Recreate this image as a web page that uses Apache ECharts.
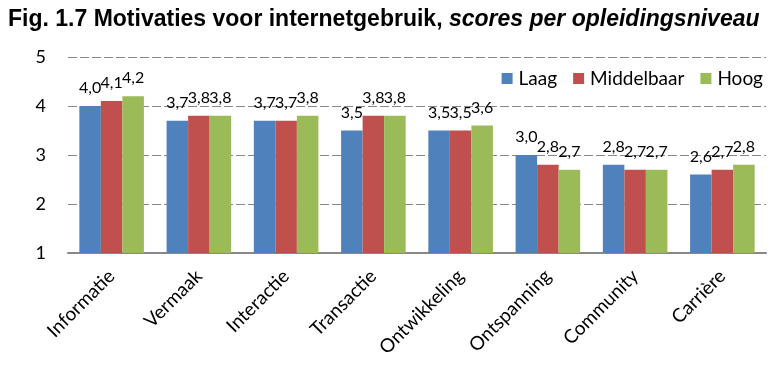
<!DOCTYPE html>
<html><head><meta charset="utf-8">
<script src="https://cdn.jsdelivr.net/npm/echarts@6/dist/echarts.min.js"></script>
<style>html,body{margin:0;padding:0;background:#fff}#c{width:778px;height:366px}</style>
</head><body><div id="c"></div>
<script>
const categories = ['Informatie','Vermaak','Interactie','Transactie','Ontwikkeling','Ontspanning','Community','Carrière'];
const seriesNames = ['Laag','Middelbaar','Hoog'];
const laag = [4.0,3.7,3.7,3.5,3.5,3.0,2.8,2.6];
const middelbaar = [4.1,3.8,3.7,3.8,3.5,2.8,2.7,2.7];
const hoog = [4.2,3.8,3.8,3.8,3.6,2.7,2.7,2.8];
const yTicks = [1,2,3,4,5];
const colors = ['#4f81bd','#c0504d','#9bbb59'];
const font = 'Lato, "Open Sans", sans-serif';
const chart = echarts.init(document.getElementById('c'));
const mk = (name, data, i) => ({
  name, type:'bar', data, barGap:'0%', barCategoryGap:'26%',
  itemStyle:{color:colors[i]},
  label:{show:true, position:'top', distance:10, color:'#000', fontFamily:font, fontSize:16,
    formatter:p=>p.value.toFixed(1).replace('.',',')}
});
chart.setOption({
  animation:false,
  title:{text:'{b|Fig. 1.7 Motivaties voor internetgebruik, }{i|scores per opleidingsniveau}', left:3, top:3,
    textStyle:{rich:{
      b:{fontFamily:'"Liberation Sans", Arial, sans-serif', fontWeight:'bold', fontSize:23, color:'#000'},
      i:{fontFamily:'"Liberation Sans", Arial, sans-serif', fontWeight:'bold', fontStyle:'italic', fontSize:23, color:'#000'}}}},
  legend:{data:seriesNames, right:10, top:64, itemWidth:11, itemHeight:11, itemGap:16, icon:'rect',
    textStyle:{fontFamily:font, fontSize:19, color:'#000', padding:[0,0,0,1]}},
  grid:{left:68, right:12, top:57, bottom:113, containLabel:false},
  xAxis:{type:'category', data:categories,
    axisLine:{lineStyle:{color:'#888', width:2}}, axisTick:{show:false},
    axisLabel:{rotate:45, interval:0, color:'#000', fontFamily:font, fontSize:19, margin:20}},
  yAxis:{type:'value', min:1, max:5, interval:1,
    axisLine:{show:false}, axisTick:{show:false},
    axisLabel:{color:'#000', fontFamily:font, fontSize:18, margin:22, formatter:v=>yTicks.includes(v)?String(v):''},
    splitLine:{lineStyle:{color:'#888', type:[9,3], width:1}}},
  series:[mk(seriesNames[0],laag,0), mk(seriesNames[1],middelbaar,1), mk(seriesNames[2],hoog,2)]
});
</script></body></html>
